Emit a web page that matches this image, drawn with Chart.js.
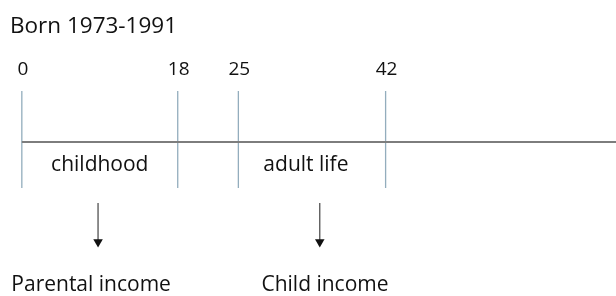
<!DOCTYPE html>
<html>
<head>
<meta charset="utf-8">
<script src="https://cdn.jsdelivr.net/npm/chart.js@4"></script>
<style>
  html, body { margin: 0; padding: 0; background: #fff; }
  #wrap { width: 616px; height: 296px; }
</style>
</head>
<body>
<div id="wrap"><canvas id="timeline"></canvas></div>
<script>
// data
const title = 'Born 1973-1991';
const ages = [0, 18, 25, 42];
const periodLabels = ['childhood', 'adult life'];
const periodAt = [9, 32.8];
const arrowAt = [8.8, 34.4];
const outcomeLabels = ['Parental income', 'Child income'];
const outcomeAt = [8, 35];

// layout (canvas rows, y scale is reversed so 0 is the top)
const X_MIN = -2.52, X_MAX = 68.6;
const LINE_Y = 142, TICK_TOP = 91, TICK_BOTTOM = 188;
const ARROW_TOP = 203, ARROW_END = 242;
const FONT = '"Open Sans", "Noto Sans", sans-serif';

const datasets = [];

datasets.push({
  data: [{ x: ages[0], y: LINE_Y }, { x: X_MAX, y: LINE_Y }],
  borderColor: '#7d7d7d',
  borderWidth: 2,
  pointRadius: 0
});

ages.forEach(a => {
  datasets.push({
    data: [{ x: a, y: TICK_TOP }, { x: a, y: TICK_BOTTOM }],
    borderColor: '#93adbd',
    borderWidth: 1.3,
    pointRadius: 0
  });
});

arrowAt.forEach(a => {
  datasets.push({
    data: [{ x: a, y: ARROW_TOP }, { x: a, y: ARROW_END }],
    borderColor: '#444',
    borderWidth: 1.2,
    pointRadius: [0, 5.5],
    pointStyle: 'triangle',
    rotation: 180,
    pointBackgroundColor: '#111',
    pointBorderWidth: 0
  });
});

const textPlugin = {
  id: 'texts',
  afterDraw(chart) {
    const { ctx, scales: { x } } = chart;
    ctx.save();
    ctx.fillStyle = '#111';
    ctx.textBaseline = 'alphabetic';

    ctx.font = '22.5px ' + FONT;
    ctx.textAlign = 'left';
    ctx.fillText(title, 10, 33);

    ctx.font = '19px ' + FONT;
    ctx.textAlign = 'center';
    ages.forEach(a => ctx.fillText(String(a), x.getPixelForValue(a) + 1, 75));

    ctx.font = '21px ' + FONT;
    periodLabels.forEach((t, i) => ctx.fillText(t, x.getPixelForValue(periodAt[i]), 171));
    outcomeLabels.forEach((t, i) => ctx.fillText(t, x.getPixelForValue(outcomeAt[i]), 291));
    ctx.restore();
  }
};

new Chart(document.getElementById('timeline'), {
  type: 'scatter',
  data: { datasets },
  options: {
    responsive: true,
    maintainAspectRatio: false,
    animation: false,
    showLine: true,
    layout: { padding: 0, autoPadding: false },
    scales: {
      x: { type: 'linear', min: X_MIN, max: X_MAX, display: false },
      y: { type: 'linear', min: 0, max: 296, reverse: true, display: false }
    },
    plugins: {
      legend: { display: false },
      tooltip: { enabled: false }
    }
  },
  plugins: [textPlugin]
});
</script>
</body>
</html>
